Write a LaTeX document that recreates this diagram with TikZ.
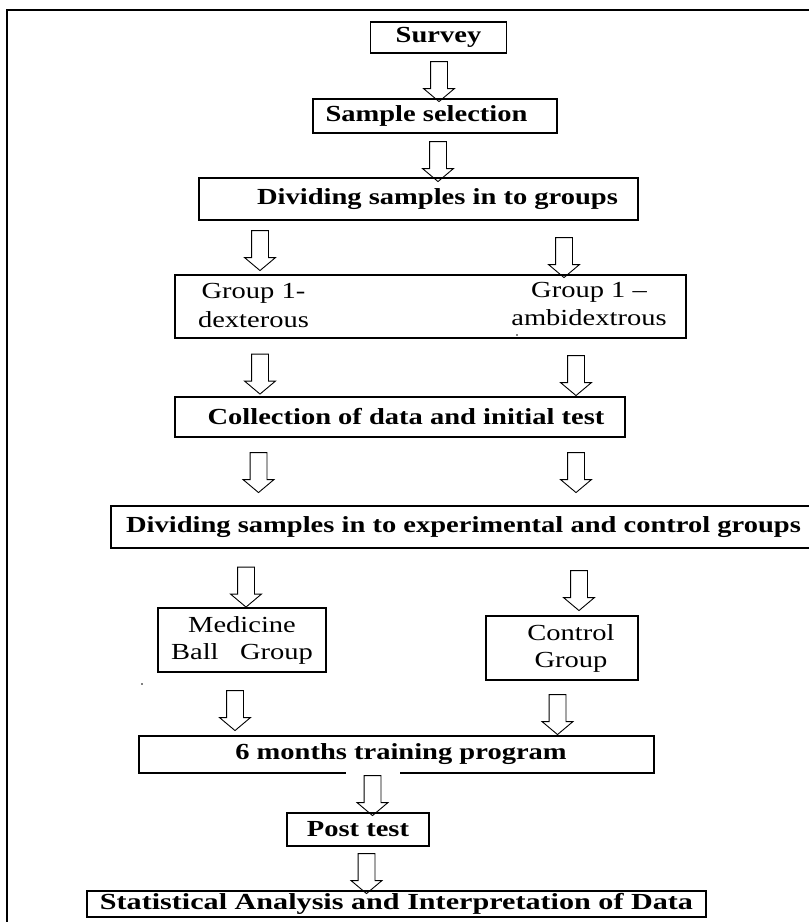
\documentclass[tikz,border=0pt]{standalone}
\usepackage{fontspec}
\setmainfont{Liberation Serif}[FakeStretch=1.24]
\usepackage{graphicx}
\usetikzlibrary{shapes.arrows}
\tikzset{
  box/.style={draw,line width=1.3pt,inner sep=0,font=\fontsize{23}{27}\selectfont\bfseries},
  plainbox/.style={draw,line width=1.3pt,inner sep=0,align=center},
  downarrow/.style={single arrow,draw,line width=.9pt,rotate=-90,inner xsep=0,inner ysep=8,
    minimum height=40,minimum width=30,single arrow head extend=7,single arrow tip angle=100}
}
\begin{document}
\begin{tikzpicture}[x=1pt,y=-1pt,font=\fontsize{23}{27}\selectfont]
\useasboundingbox(0,0)rectangle(809,922);
\clip(0,0)rectangle(809,922);
%frame
\draw[line width=1.5pt](7,10)rectangle(840,950);
%main steps
\node[box,minimum width=136,minimum height=31](survey)at(438.5,37.5){Survey};
\node[box,minimum width=244,minimum height=34](sample)at(435,116){Sample selection\hspace*{17pt}};
\node[box,minimum width=439,minimum height=42](groups)at(418.5,199){\hspace*{38pt}Dividing samples in to groups};
%two groups
\node[plainbox,minimum width=511,minimum height=63](grp)at(430.5,306.5){};
\node[align=center,font=\fontsize{23}{29}\selectfont](dext)at(253.5,305){Group 1-\\dexterous};
\node[align=center,font=\fontsize{23}{28}\selectfont](ambi)at(589,303.5){Group 1 --\\ambidextrous};
\node[box,minimum width=450,minimum height=40](collect)at(400,417){\hspace*{12pt}Collection of data and initial test};
\node[box,minimum width=705,minimum height=42](split)at(463.5,527){Dividing samples in to experimental and control groups};
%experimental and control
\node[plainbox,minimum width=168,minimum height=64](ball)at(242,640){Medicine\\Ball~~~Group};
\node[plainbox,minimum width=152,minimum height=64](control)at(562,648){\hspace*{18pt}Control\\\hspace*{18pt}Group};
\node[box,minimum width=515,minimum height=37](train)at(396.5,754.5){\hspace*{9pt}6 months training program};
\node[box,minimum width=142,minimum height=33](post)at(358,829.5){Post test};
\node[box,minimum width=619,minimum height=26](stat)at(396.5,904){\scalebox{1.057}[1]{Statistical Analysis and Interpretation of Data}};
%gap under training box
\fill[white](346,771)rectangle(400,776);
%arrows
\node[downarrow](a1)at(439,78){};
\node[downarrow](a2)at(438,158){};
\node[downarrow](a3)at(260,247){};
\node[downarrow](a4)at(564,254){};
\node[downarrow](a5)at(260,370.5){};
\node[downarrow](a6)at(576,372){};
\node[downarrow](a7)at(258.5,469){};
\node[downarrow](a8)at(576,469){};
\node[downarrow](a9)at(246,583.5){};
\node[downarrow](a10)at(579,587){};
\node[downarrow](a11)at(235,707){};
\node[downarrow](a12)at(557.5,711){};
\node[downarrow](a13)at(372.5,792){};
\node[downarrow](a14)at(366.5,870){};
%stray dots
\fill(142,684)circle(.8);
\fill(517,335)circle(.8);
\end{tikzpicture}
\end{document}
